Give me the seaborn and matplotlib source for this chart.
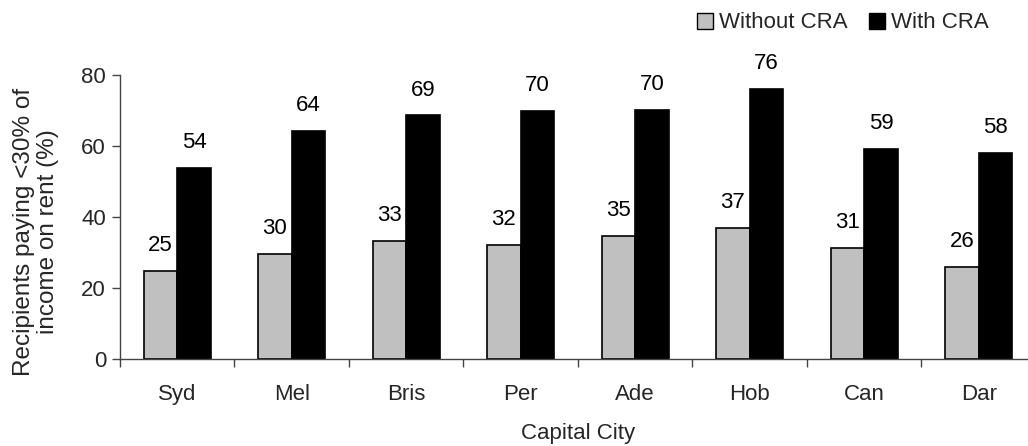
import matplotlib
matplotlib.use("Agg")
import matplotlib.pyplot as plt
import seaborn as sns
import pandas as pd
import numpy as np
from matplotlib.ticker import FixedLocator

cities = ["Syd", "Mel", "Bris", "Per", "Ade", "Hob", "Can", "Dar"]
without_cra = [24.8, 29.6, 33.2, 32.2, 34.7, 36.9, 31.4, 25.9]
with_cra = [53.8, 64.3, 68.6, 69.8, 70.2, 76.0, 59.1, 58.0]
series = ["Without CRA", "With CRA"]
colors = ["#C0C0C0", "#000000"]

df = pd.DataFrame({
    "city": cities * 2,
    "value": without_cra + with_cra,
    "series": [series[0]] * len(cities) + [series[1]] * len(cities),
})

sns.set_style("white")
plt.rcParams["font.family"] = ["Liberation Sans", "DejaVu Sans"]
FS = 16

fig = plt.figure(figsize=(10.28, 4.46), dpi=100)
ax = fig.add_axes([0.1167, 0.195, 0.891, 0.637])

sns.barplot(data=df, x="city", y="value", hue="series", hue_order=series,
            palette=colors, width=0.585, edgecolor="black", linewidth=1.2,
            ax=ax, legend=True, saturation=1)

# value labels
for cont in ax.containers:
    for p in cont.patches:
        h = p.get_height()
        ax.text(p.get_x() + p.get_width() / 2, h + 7.1, f"{round(h):d}",
                ha="center", va="center", fontsize=FS, color="black")

ax.set_ylim(0, 80)
ax.set_xlim(-0.5, len(cities) - 0.5)
ax.set_yticks([0, 20, 40, 60, 80])
ax.tick_params(axis="y", which="major", length=6, width=1, color="#444444",
               labelsize=FS, pad=4, left=True, direction="out")
ax.tick_params(axis="x", which="major", length=0, labelsize=FS, pad=18)
ax.xaxis.set_minor_locator(FixedLocator(np.arange(-0.5, len(cities), 1.0)))
ax.tick_params(axis="x", which="minor", length=6, width=1, color="#444444",
               bottom=True, direction="out")

for s in ["top", "right"]:
    ax.spines[s].set_visible(False)
for s in ["left", "bottom"]:
    ax.spines[s].set_color("#444444")
    ax.spines[s].set_linewidth(1)

ax.set_xlabel("Capital City", fontsize=FS, labelpad=13)
ax.set_ylabel("Recipients paying <30% of\nincome on rent (%)", fontsize=17.5,
              linespacing=1.1)
ax.yaxis.set_label_coords(-0.067, 0.447)

leg = ax.legend(loc="center right", bbox_to_anchor=(989 / 1028, 1 - 23 / 446),
                bbox_transform=fig.transFigure, ncol=2,
                frameon=False, fontsize=FS, handlelength=0.7, handleheight=0.7,
                handletextpad=0.3, columnspacing=0.95, borderaxespad=0,
                borderpad=0)
for h in leg.legend_handles:
    h.set_edgecolor("black")
    h.set_linewidth(1)

fig.savefig("out.png", dpi=100)
